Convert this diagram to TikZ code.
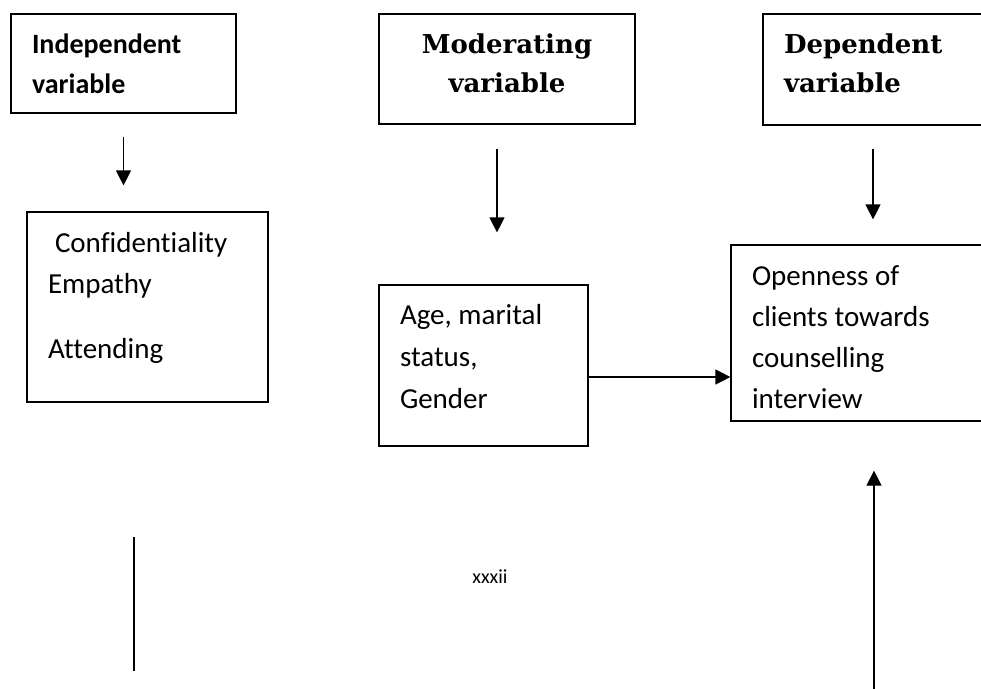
\documentclass[tikz,border=0pt]{standalone}
\usepackage{fontspec}
\setmainfont{Carlito}[Ligatures={NoCommon}]
\newfontfamily\headserif{DejaVu Serif}
\usetikzlibrary{arrows.meta,positioning}

\begin{document}
\begin{tikzpicture}[
    x=1pt, y=-1pt,
    box/.style={rectangle, draw, line width=1.2pt, inner xsep=21pt, inner ysep=0pt, align=flush left},
    head/.style={box, font=\fontsize{28}{40}\selectfont\bfseries},
    serifhead/.style={box, font=\fontsize{26}{39}\selectfont\headserif\bfseries},
    body/.style={box, font=\fontsize{29}{41}\selectfont},
    arrow/.style={-{Triangle[length=15pt,width=15pt]}, line width=1.2pt},
    stem/.style={line width=1.2pt}
]
    \clip (0,0) rectangle (981,688);

    % top row
    \node[head, text width=183pt, text height=39pt, text depth=60pt] (indep) at (123.5,63.5) {Independent\\variable};
    \node[serifhead, align=center, text width=214pt, text height=39pt, text depth=71pt] (moder) at (507,69) {Moderating\\variable};
    \node[serifhead, text width=178pt, text height=39pt, text depth=72pt] (dep) at (873,69.5) {Dependent\\variable};

    % second row
    \node[body, text width=199pt, text height=40pt, text depth=150pt] (conf) at (147.5,307) {\hspace*{7pt}Confidentiality\\Empathy\\[24pt]Attending};
    \node[body, font=\fontsize{29}{42}\selectfont, text width=167pt, text height=39pt, text depth=122pt] (age) at (483.5,365.5) {Age, marital\\status,\\Gender};
    \node[body, text width=244pt, text height=40pt, text depth=136pt] (open) at (874,333) {Openness of\\clients towards\\counselling\\interview};

    \node[font=\fontsize{20}{24}\selectfont] (pageno) at (490,577) {xxxii};

    \coordinate (stemtop) at (134,537);
    \coordinate (stembot) at (134,671);
    \coordinate (foot) at (874,700);

    \draw[arrow, shorten <=23pt, shorten >=26pt] (indep.south) -- (indep.south |- conf.north);
    \draw[arrow, shorten <=24pt, shorten >=52pt] ([xshift=-10pt]moder.south) -- ([xshift=-10pt]moder.south |- age.north);
    \draw[arrow, shorten <=23pt, shorten >=25pt] (dep.south) -- (dep.south |- open.north);
    \draw[arrow] ([yshift=-11.5pt]age.east) -- ([yshift=-11.5pt]age.east -| open.west);
    \draw[arrow, shorten >=49pt] (foot) -- (open.south);
    \draw[stem] (stemtop) -- (stembot);
\end{tikzpicture}
\end{document}
